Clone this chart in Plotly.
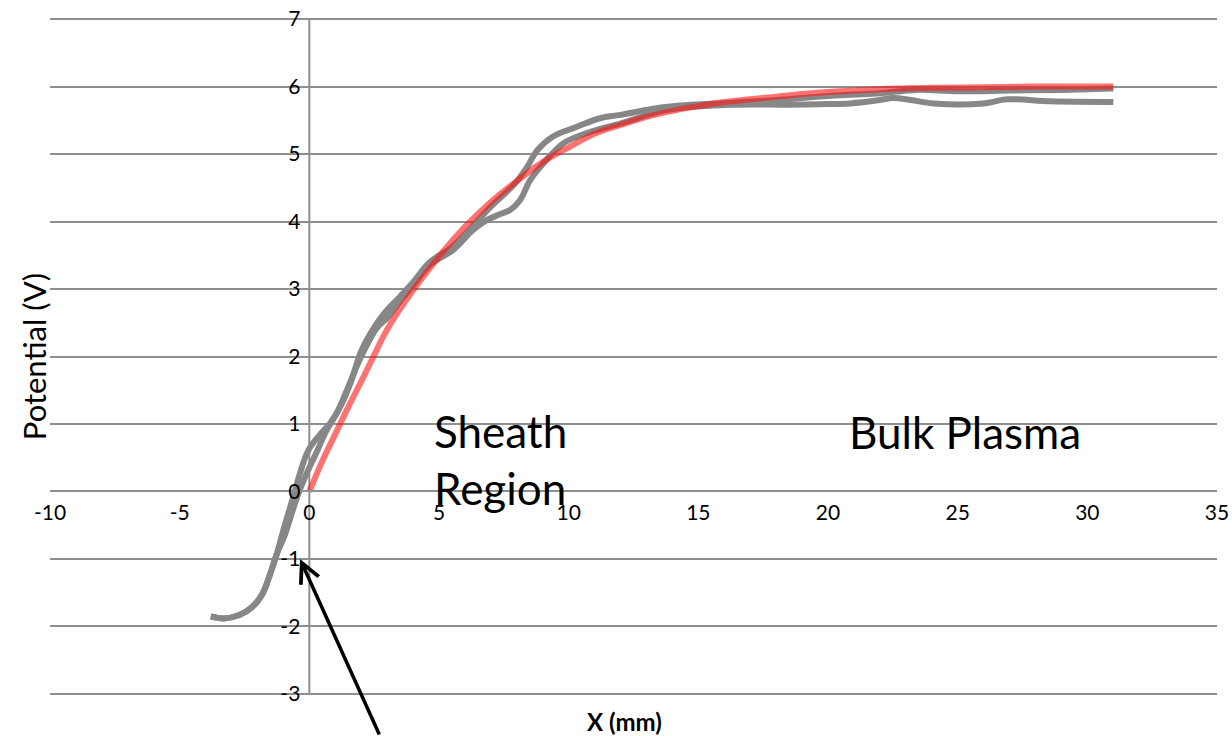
import plotly.graph_objects as go

# ---- data ----
red_x = [0, 0.5, 1, 1.5, 2, 2.5, 3, 4, 5, 6, 7, 8, 9, 10, 11, 12, 13, 14, 15, 16, 17, 18, 19, 20, 22, 24, 26, 28, 31]
red_y = [0, 0.45, 0.85, 1.25, 1.63, 2.02, 2.4, 2.98, 3.48, 3.92, 4.29, 4.6, 4.88, 5.1, 5.3, 5.43, 5.55, 5.64, 5.71, 5.77, 5.81, 5.85, 5.89, 5.92, 5.96, 5.98, 5.99, 6.0, 6.0]

gray1_x = [-3.8, -3.3, -2.7, -2.2, -1.8, -1.5, -1.25, -0.95, -0.62, -0.36, -0.04, 0.4, 0.8, 1.2, 1.6, 2.0, 2.6, 3.0, 3.5, 4.0, 4.65, 5.5, 6.3, 7.0, 7.9, 8.4, 8.8, 9.4, 10.3, 11.2, 12.0, 13.8, 16.3, 18.0, 19.0, 20.0, 21.0, 22.0, 23.4, 25, 27, 29, 31]
gray1_y = [-1.85, -1.88, -1.83, -1.71, -1.51, -1.21, -0.92, -0.5, -0.08, 0.27, 0.61, 0.84, 1.01, 1.26, 1.62, 2.08, 2.49, 2.69, 2.89, 3.1, 3.4, 3.62, 3.93, 4.22, 4.55, 4.81, 5.06, 5.26, 5.40, 5.53, 5.58, 5.7, 5.76, 5.8, 5.83, 5.86, 5.88, 5.9, 5.95, 5.93, 5.94, 5.95, 5.97]

gray2_x = [-3.8, -3.3, -2.7, -2.2, -1.8, -1.5, -1.25, -0.95, -0.74, -0.42, -0.1, 0.29, 0.67, 1.06, 1.5, 2.0, 2.6, 3.0, 3.5, 4.0, 4.65, 5.55, 6.3, 6.84, 7.3, 7.74, 8.13, 8.51, 9.02, 9.8, 10.7, 11.98, 13.78, 16.35, 18.5, 20.0, 20.86, 22.0, 22.5, 23.2, 24.06, 26.0, 26.9, 28.6, 31]
gray2_y = [-1.85, -1.88, -1.83, -1.71, -1.51, -1.21, -0.92, -0.65, -0.40, -0.03, 0.27, 0.59, 0.91, 1.16, 1.55, 2.0, 2.42, 2.57, 2.82, 3.05, 3.36, 3.58, 3.87, 4.02, 4.1, 4.17, 4.32, 4.61, 4.86, 5.16, 5.31, 5.45, 5.65, 5.73, 5.73, 5.74, 5.75, 5.8, 5.83, 5.8, 5.75, 5.75, 5.81, 5.78, 5.77]

x_range = [-10, 35]
y_range = [-3, 7]
x_ticks = [-10, -5, 0, 5, 10, 15, 20, 25, 30, 35]
y_ticks = [-3, -2, -1, 0, 1, 2, 3, 4, 5, 6, 7]
x_labels = ["-10", "-5", "0", "5", "10", "15", "20", "25", "30", "35"]
y_labels = ["-3", "-2", "-1", "0", "1", "2", "3", "4", "5", "6", "7"]

FONT = "Lato"
GRID = "#8f8f8f"
PAD = 0.03

fig = go.Figure()
fig.add_trace(go.Scatter(x=gray1_x, y=gray1_y, mode="lines",
                         line=dict(color="#878787", width=6, shape="spline", smoothing=1),
                         showlegend=False, hoverinfo="skip"))
fig.add_trace(go.Scatter(x=gray2_x, y=gray2_y, mode="lines",
                         line=dict(color="#878787", width=6, shape="spline", smoothing=1),
                         showlegend=False, hoverinfo="skip"))
fig.add_trace(go.Scatter(x=red_x, y=red_y, mode="lines",
                         line=dict(color="rgba(255,20,20,0.6)", width=6, shape="spline", smoothing=1),
                         showlegend=False, hoverinfo="skip"))

xr = [x_range[0], x_range[1]]
yr = [y_range[0] - PAD, y_range[1] + PAD]
# positions of the crossing axes expressed as paper fractions of the ranges
y_axis_pos = (0 - xr[0]) / (xr[1] - xr[0])
x_axis_pos = (0 - yr[0]) / (yr[1] - yr[0])

fig.update_layout(
    width=1232, height=736,
    margin=dict(l=50, r=15, t=17, b=40, autoexpand=False),
    paper_bgcolor="white", plot_bgcolor="white",
    font=dict(family=FONT, color="black", size=21),
    xaxis=dict(range=xr, tickvals=x_ticks, ticktext=x_labels, showgrid=False, zeroline=False,
               showline=True, linecolor=GRID, linewidth=2,
               anchor="free", position=x_axis_pos, ticks="", ticklabelstandoff=2,
               tickfont=dict(family=FONT, size=21, color="black")),
    yaxis=dict(range=yr, tickvals=y_ticks, ticktext=y_labels, showgrid=True, gridcolor=GRID, gridwidth=2,
               zeroline=False, showline=False,
               anchor="free", position=y_axis_pos, ticks="", ticklabelstandoff=9,
               tickfont=dict(family=FONT, size=21, color="black")),
    shapes=[dict(type="line", xref="x", yref="y", x0=0, x1=0, y0=y_range[0], y1=y_range[1],
                 line=dict(color=GRID, width=2), layer="below")],
)

# axis titles
fig.add_annotation(text="Potential (V)", xref="paper", yref="paper", x=-0.014, y=0.5,
                   textangle=-90, showarrow=False, xanchor="center", yanchor="middle",
                   font=dict(family=FONT, size=31, color="black"))
fig.add_annotation(text="<b>X (mm)</b>", xref="paper", yref="paper", x=0.492, y=-0.037,
                   showarrow=False, xanchor="center", yanchor="middle",
                   font=dict(family=FONT, size=24, color="black"))

# region labels
fig.add_annotation(text="Sheath<br>Region", x=4.73, y=0.47, xref="x", yref="y",
                   showarrow=False, xanchor="left", yanchor="middle", align="left",
                   font=dict(family=FONT, size=44, color="black"))
fig.add_annotation(text="Bulk Plasma", x=20.75, y=0.88, xref="x", yref="y",
                   showarrow=False, xanchor="left", yanchor="middle",
                   font=dict(family=FONT, size=44, color="black"))

# arrow
fig.add_annotation(x=-0.36, y=-1.0, xref="x", yref="y", text="",
                   showarrow=True, arrowhead=5, arrowsize=1.1, arrowwidth=3.5,
                   arrowcolor="black", ax=80, ay=182, standoff=0)

fig.write_html("out.html", config={"displayModeBar": False},
               post_script="document.body.style.margin='0';document.body.style.overflow='hidden';")
